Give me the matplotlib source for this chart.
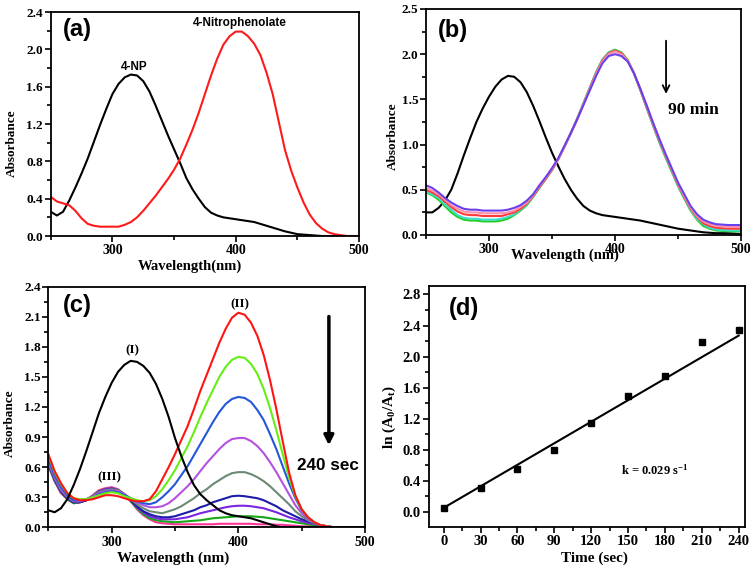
import numpy as np
import matplotlib.pyplot as plt
from matplotlib.ticker import MultipleLocator

plt.rcParams["font.family"] = "serif"
plt.rcParams["font.serif"] = ["Liberation Serif", "DejaVu Serif"]
plt.rcParams["font.weight"] = "bold"
plt.rcParams["axes.labelweight"] = "bold"
plt.rcParams["mathtext.default"] = "regular"
plt.rcParams["axes.linewidth"] = 1.3

SANS = "Liberation Sans"

# wavelength grid (nm), 250..500 every 5 nm, shared by every spectrum
wl = list(range(250, 501, 5))

# (a) 4-NP and 4-nitrophenolate
a_np = [0.26, 0.22, 0.26, 0.38, 0.52, 0.67, 0.83, 1.01, 1.19, 1.36,
        1.52, 1.63, 1.70, 1.73, 1.72, 1.66, 1.55, 1.40, 1.24, 1.08,
        0.93, 0.78, 0.62, 0.50, 0.40, 0.31, 0.25, 0.22, 0.20, 0.19,
        0.18, 0.17, 0.16, 0.15, 0.13, 0.11, 0.09, 0.07, 0.05, 0.035,
        0.02, 0.015, 0.01, 0.005, 0, 0, 0, 0, 0, 0,
        0]
a_phenolate = [0.42, 0.37, 0.35, 0.33, 0.27, 0.19, 0.13, 0.11, 0.10, 0.10,
               0.10, 0.10, 0.12, 0.15, 0.20, 0.27, 0.35, 0.43, 0.52, 0.61,
               0.71, 0.83, 0.98, 1.14, 1.32, 1.52, 1.72, 1.90, 2.05, 2.14,
               2.19, 2.19, 2.14, 2.06, 1.94, 1.75, 1.52, 1.22, 0.92, 0.70,
               0.52, 0.36, 0.23, 0.14, 0.08, 0.04, 0.02, 0.01, 0, 0,
               0]

# (b) 4-NP and spectra recorded over 90 min
b_np = [0.25, 0.25, 0.30, 0.38, 0.50, 0.68, 0.88, 1.07, 1.25, 1.40,
        1.53, 1.64, 1.72, 1.76, 1.75, 1.69, 1.58, 1.43, 1.26, 1.08,
        0.91, 0.76, 0.62, 0.50, 0.40, 0.32, 0.27, 0.24, 0.22, 0.21,
        0.20, 0.19, 0.18, 0.17, 0.16, 0.145, 0.13, 0.115, 0.10, 0.085,
        0.07, 0.06, 0.05, 0.04, 0.03, 0.025, 0.02, 0.02, 0.02, 0.015,
        0.01]
b_green = [0.47, 0.44, 0.39, 0.32, 0.25, 0.20, 0.17, 0.16, 0.16, 0.15,
           0.15, 0.15, 0.16, 0.18, 0.22, 0.27, 0.33, 0.42, 0.52, 0.62,
           0.72, 0.84, 0.98, 1.13, 1.29, 1.46, 1.63, 1.80, 1.94, 2.02,
           2.05, 2.02, 1.94, 1.79, 1.61, 1.41, 1.22, 1.03, 0.86, 0.70,
           0.54, 0.40, 0.27, 0.17, 0.10, 0.07, 0.05, 0.045, 0.04, 0.04,
           0.04]
b_cyan = [0.48, 0.45, 0.41, 0.34, 0.28, 0.22, 0.19, 0.18, 0.18, 0.17,
          0.17, 0.17, 0.18, 0.20, 0.23, 0.28, 0.34, 0.43, 0.53, 0.62,
          0.72, 0.84, 0.98, 1.13, 1.29, 1.46, 1.63, 1.80, 1.94, 2.02,
          2.04, 2.01, 1.93, 1.79, 1.61, 1.41, 1.22, 1.04, 0.87, 0.71,
          0.55, 0.41, 0.28, 0.18, 0.12, 0.08, 0.06, 0.055, 0.05, 0.05,
          0.05]
b_red = [0.50, 0.47, 0.43, 0.37, 0.31, 0.26, 0.23, 0.22, 0.22, 0.21,
         0.21, 0.21, 0.21, 0.23, 0.25, 0.29, 0.35, 0.43, 0.53, 0.62,
         0.72, 0.84, 0.98, 1.13, 1.28, 1.45, 1.62, 1.79, 1.93, 2.01,
         2.04, 2.01, 1.93, 1.79, 1.61, 1.42, 1.23, 1.05, 0.88, 0.72,
         0.56, 0.42, 0.29, 0.20, 0.13, 0.10, 0.08, 0.075, 0.07, 0.07,
         0.07]
b_pink = [0.52, 0.49, 0.45, 0.39, 0.33, 0.29, 0.26, 0.25, 0.25, 0.24,
          0.24, 0.24, 0.24, 0.25, 0.27, 0.31, 0.36, 0.44, 0.54, 0.63,
          0.73, 0.84, 0.98, 1.13, 1.28, 1.45, 1.61, 1.78, 1.92, 2.00,
          2.03, 2.00, 1.93, 1.79, 1.62, 1.43, 1.24, 1.06, 0.89, 0.73,
          0.57, 0.43, 0.30, 0.21, 0.15, 0.12, 0.10, 0.095, 0.09, 0.09,
          0.09]
b_purple = [0.55, 0.52, 0.47, 0.41, 0.36, 0.32, 0.29, 0.28, 0.28, 0.27,
            0.27, 0.27, 0.27, 0.28, 0.30, 0.33, 0.38, 0.45, 0.55, 0.64,
            0.74, 0.85, 0.99, 1.13, 1.28, 1.44, 1.60, 1.76, 1.90, 1.98,
            2.00, 1.98, 1.92, 1.79, 1.62, 1.44, 1.25, 1.07, 0.90, 0.74,
            0.58, 0.45, 0.32, 0.23, 0.17, 0.14, 0.12, 0.115, 0.11, 0.11,
            0.11]

# (c) reduction followed over 240 sec
c_np = [0.17, 0.15, 0.19, 0.28, 0.42, 0.58, 0.76, 0.95, 1.14, 1.30,
        1.44, 1.55, 1.62, 1.66, 1.65, 1.61, 1.54, 1.43, 1.28, 1.10,
        0.89, 0.71, 0.55, 0.42, 0.33, 0.27, 0.22, 0.17, 0.14, 0.12,
        0.11, 0.10, 0.09, 0.07, 0.05, 0.03, 0.01, 0, 0, 0,
        0, 0, 0, 0, 0, 0, 0, 0, 0, 0,
        0]
c_red = [0.73, 0.56, 0.44, 0.34, 0.29, 0.27, 0.27, 0.28, 0.30, 0.32,
         0.32, 0.31, 0.29, 0.27, 0.26, 0.26, 0.28, 0.36, 0.48, 0.60,
         0.73, 0.87, 1.01, 1.18, 1.36, 1.52, 1.68, 1.84, 1.98, 2.09,
         2.14, 2.12, 2.04, 1.91, 1.72, 1.47, 1.18, 0.86, 0.55, 0.32,
         0.18, 0.10, 0.05, 0.02, 0.01, 0, 0, 0, 0, 0,
         0]
c_green = [0.72, 0.55, 0.43, 0.34, 0.29, 0.28, 0.28, 0.30, 0.32, 0.34,
           0.35, 0.34, 0.31, 0.29, 0.27, 0.26, 0.27, 0.31, 0.38, 0.47,
           0.57, 0.69, 0.81, 0.95, 1.10, 1.24, 1.37, 1.50, 1.60, 1.67,
           1.70, 1.69, 1.63, 1.53, 1.38, 1.19, 0.97, 0.73, 0.50, 0.31,
           0.18, 0.10, 0.05, 0.02, 0.01, 0, 0, 0, 0, 0,
           0]
c_blue = [0.68, 0.52, 0.40, 0.32, 0.27, 0.27, 0.28, 0.30, 0.33, 0.35,
          0.36, 0.35, 0.32, 0.29, 0.26, 0.24, 0.23, 0.25, 0.30, 0.36,
          0.43, 0.52, 0.61, 0.72, 0.83, 0.94, 1.05, 1.15, 1.23, 1.28,
          1.30, 1.29, 1.25, 1.17, 1.07, 0.93, 0.78, 0.61, 0.44, 0.29,
          0.17, 0.10, 0.05, 0.02, 0.01, 0, 0, 0, 0, 0,
          0]
c_violet = [0.66, 0.50, 0.38, 0.31, 0.26, 0.26, 0.28, 0.31, 0.34, 0.36,
            0.37, 0.36, 0.33, 0.29, 0.25, 0.22, 0.20, 0.20, 0.21, 0.24,
            0.29, 0.35, 0.41, 0.48, 0.56, 0.64, 0.71, 0.78, 0.84, 0.88,
            0.89, 0.89, 0.86, 0.81, 0.74, 0.65, 0.55, 0.44, 0.33, 0.22,
            0.14, 0.08, 0.05, 0.02, 0.01, 0, 0, 0, 0, 0,
            0]
c_slate = [0.65, 0.49, 0.37, 0.30, 0.26, 0.26, 0.28, 0.31, 0.35, 0.37,
           0.38, 0.37, 0.33, 0.28, 0.23, 0.19, 0.16, 0.15, 0.14, 0.16,
           0.18, 0.21, 0.25, 0.29, 0.34, 0.38, 0.43, 0.47, 0.51, 0.54,
           0.55, 0.55, 0.53, 0.50, 0.46, 0.41, 0.35, 0.29, 0.23, 0.16,
           0.11, 0.07, 0.04, 0.02, 0.01, 0, 0, 0, 0, 0,
           0]
c_navy = [0.64, 0.48, 0.36, 0.29, 0.25, 0.25, 0.27, 0.31, 0.35, 0.37,
          0.38, 0.37, 0.33, 0.27, 0.21, 0.16, 0.13, 0.11, 0.10, 0.10,
          0.11, 0.13, 0.15, 0.17, 0.20, 0.22, 0.25, 0.27, 0.29, 0.31,
          0.315, 0.31, 0.30, 0.29, 0.27, 0.24, 0.21, 0.17, 0.14, 0.11,
          0.08, 0.06, 0.04, 0.02, 0.01, 0, 0, 0, 0, 0,
          0]
c_purple = [0.63, 0.47, 0.35, 0.29, 0.25, 0.25, 0.27, 0.31, 0.36, 0.38,
            0.39, 0.37, 0.33, 0.27, 0.20, 0.15, 0.11, 0.09, 0.08, 0.08,
            0.08, 0.09, 0.10, 0.12, 0.14, 0.155, 0.17, 0.185, 0.20, 0.21,
            0.215, 0.215, 0.21, 0.20, 0.19, 0.17, 0.15, 0.125, 0.10, 0.08,
            0.06, 0.045, 0.03, 0.02, 0.01, 0, 0, 0, 0, 0,
            0]
c_green2 = [0.62, 0.46, 0.35, 0.28, 0.24, 0.25, 0.27, 0.31, 0.36, 0.38,
            0.39, 0.37, 0.33, 0.26, 0.19, 0.13, 0.09, 0.07, 0.06, 0.055,
            0.05, 0.055, 0.06, 0.065, 0.07, 0.08, 0.09, 0.095, 0.10, 0.105,
            0.11, 0.11, 0.11, 0.105, 0.10, 0.09, 0.08, 0.07, 0.06, 0.05,
            0.04, 0.03, 0.02, 0.015, 0.01, 0, 0, 0, 0, 0,
            0]
c_magenta = [0.62, 0.46, 0.34, 0.28, 0.24, 0.25, 0.27, 0.32, 0.37, 0.39,
             0.40, 0.38, 0.33, 0.26, 0.18, 0.12, 0.08, 0.05, 0.04, 0.035,
             0.03, 0.03, 0.03, 0.03, 0.03, 0.03, 0.03, 0.035, 0.035, 0.035,
             0.035, 0.035, 0.035, 0.03, 0.03, 0.03, 0.025, 0.025, 0.02, 0.015,
             0.01, 0.01, 0.01, 0.005, 0, 0, 0, 0, 0, 0,
             0]

# (d) kinetics
time_s = [0, 30, 60, 90, 120, 150, 180, 210, 240]
ln_ratio = [0.05, 0.31, 0.55, 0.80, 1.15, 1.49, 1.75, 2.19, 2.34]
fit_intercept = 0.05
fit_slope = 0.00925

for s in [a_np, a_phenolate, b_np, b_green, b_cyan, b_red, b_pink, b_purple,
          c_np, c_red, c_green, c_blue, c_violet, c_slate, c_navy, c_purple,
          c_green2, c_magenta]:
    assert len(s) == len(wl)


def style(ax, xmaj, xmin, ymaj, ymin, fs_x=10, fs_y=9.5):
    ax.xaxis.set_major_locator(MultipleLocator(xmaj))
    ax.xaxis.set_minor_locator(MultipleLocator(xmin))
    ax.yaxis.set_major_locator(MultipleLocator(ymaj))
    ax.yaxis.set_minor_locator(MultipleLocator(ymin))
    ax.tick_params(which="both", direction="out", top=False, right=False, width=1.2)
    ax.tick_params(which="major", length=4)
    ax.tick_params(which="minor", length=3)
    ax.tick_params(axis="x", labelsize=fs_x, pad=2)
    ax.tick_params(axis="y", labelsize=fs_y, pad=1.5)
    ax.yaxis.set_major_formatter(plt.FormatStrFormatter("%.1f"))


fig = plt.figure(figsize=(7.56, 5.69), dpi=100)
ax_a = fig.add_axes([0.0671, 0.5852, 0.4078, 0.3937])
ax_b = fig.add_axes([0.5635, 0.5870, 0.4167, 0.3972])
ax_c = fig.add_axes([0.0639, 0.0733, 0.4189, 0.4229])
ax_d = fig.add_axes([0.5670, 0.0743, 0.4189, 0.4236])

# ---- (a)
ax_a.plot(wl, a_np, color="black", lw=1.5)
ax_a.plot(wl, a_phenolate, color="#ff1a1a", lw=1.5)
ax_a.set_xlim(250, 500)
ax_a.set_ylim(0, 2.4)
style(ax_a, 100, 50, 0.4, 0.2)
ax_a.set_xlabel("Wavelength(nm)", fontsize=10.5, va="center")
ax_a.xaxis.set_label_coords(0.452, -0.137)
ax_a.set_ylabel("Absorbance", fontsize=9.5, va="center")
ax_a.yaxis.set_label_coords(-0.126, 0.414)
ax_a.text(0.085, 0.924, "(a)", transform=ax_a.transAxes, family=SANS, fontsize=17,
          weight="bold", ha="center", va="center")
ax_a.text(318, 1.81, "4-NP", family=SANS, fontsize=8.5, weight="bold", ha="center", va="center")
ax_a.text(403, 2.28, "4-Nitrophenolate", family=SANS, fontsize=8.5, weight="bold",
          ha="center", va="center")

# ---- (b)
ax_b.plot(wl, b_np, color="black", lw=1.5)
for ys, col in [(b_green, "#1fcf1f"), (b_cyan, "#3fdccc"), (b_red, "#ff3a3a"),
                (b_pink, "#ff90aa"), (b_purple, "#6a3ff0")]:
    ax_b.plot(wl, ys, color=col, lw=1.5)
ax_b.set_xlim(250, 500)
ax_b.set_ylim(0, 2.5)
style(ax_b, 100, 50, 0.5, 0.25)
# in the original the axis title sits right on top of the "400" tick label
ax_b.set_xlabel("Wavelength (nm)", fontsize=10.5, va="center")
ax_b.xaxis.set_label_coords(0.44, -0.088)
ax_b.set_ylabel("Absorbance", fontsize=9.5, va="center")
ax_b.yaxis.set_label_coords(-0.105, 0.435)
ax_b.text(0.085, 0.906, "(b)", transform=ax_b.transAxes, family=SANS, fontsize=17,
          weight="bold", ha="center", va="center")
ax_b.annotate("", xy=(440.5, 1.53), xytext=(440.5, 2.18),
              arrowprops=dict(arrowstyle="->", lw=1.3, color="black", mutation_scale=12))
ax_b.text(462, 1.38, "90 min", fontsize=12.5, weight="bold", ha="center", va="center")

# ---- (c)
c_series = [(c_magenta, "#ff3399"), (c_green2, "#16a816"), (c_purple, "#7a26e0"),
            (c_navy, "#1c1ca8"), (c_slate, "#6a8a74"), (c_violet, "#b452e0"),
            (c_blue, "#2456d8"), (c_green, "#66ee14"), (c_red, "#ff1414")]
for ys, col in c_series:
    ax_c.plot(wl, ys, color=col, lw=1.5)
ax_c.plot(wl, c_np, color="black", lw=1.5)
ax_c.set_xlim(250, 500)
ax_c.set_ylim(0, 2.4)
style(ax_c, 100, 50, 0.3, 0.15)
ax_c.set_xlabel("Wavelength (nm)", fontsize=11, va="center")
ax_c.xaxis.set_label_coords(0.395, -0.129)
ax_c.set_ylabel("Absorbance", fontsize=9.5, va="center")
ax_c.yaxis.set_label_coords(-0.121, 0.432)
ax_c.text(0.092, 0.921, "(c)", transform=ax_c.transAxes, family=SANS, fontsize=17,
          weight="bold", ha="center", va="center")
ax_c.text(401, 2.22, "(II)", fontsize=9.5, weight="bold", ha="center", va="center")
ax_c.text(316, 1.77, "(I)", fontsize=9.5, weight="bold", ha="center", va="center")
ax_c.text(298, 0.495, "(III)", fontsize=9.5, weight="bold", ha="center", va="center")
ax_c.annotate("", xy=(471.5, 0.79), xytext=(471.5, 2.13),
              arrowprops=dict(arrowstyle="-|>", lw=2.5, color="black", mutation_scale=14))
ax_c.text(471, 0.62, "240 sec", family=SANS, fontsize=12.3, weight="bold",
          ha="center", va="center")

# ---- (d)
t = np.array(time_s)
ax_d.plot(t, fit_intercept + fit_slope * t, color="black", lw=1.5)
ax_d.plot(time_s, ln_ratio, "s", color="black", ms=4.5)
ax_d.set_xlim(-12.2, 245.4)
ax_d.set_ylim(-0.193, 2.913)
style(ax_d, 30, 15, 0.4, 0.2, fs_x=10.5, fs_y=10.5)
ax_d.set_xlabel("Time (sec)", fontsize=11, va="center")
ax_d.xaxis.set_label_coords(0.524, -0.131)
ax_d.set_ylabel("ln (A$_0$/A$_t$)", fontsize=11, va="center")
ax_d.yaxis.set_label_coords(-0.123, 0.456)
ax_d.text(0.111, 0.906, "(d)", transform=ax_d.transAxes, family=SANS, fontsize=17,
          weight="bold", ha="center", va="center")
ax_d.text(172, 0.54, "k = 0.029 s$^{-1}$", fontsize=9, weight="bold", ha="center", va="center")

fig.savefig("out.png", dpi=100)
